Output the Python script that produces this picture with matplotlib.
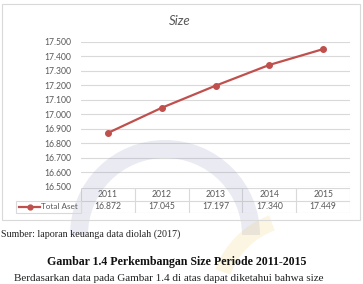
import numpy as np
import matplotlib.pyplot as plt
from matplotlib.patches import Rectangle, Wedge
from matplotlib.lines import Line2D

# === data ===
years = ['2011', '2012', '2013', '2014', '2015']
total_aset = [16.872, 17.045, 17.197, 17.340, 17.449]
y_ticks = [16.5, 16.6, 16.7, 16.8, 16.9, 17.0, 17.1, 17.2, 17.3, 17.4, 17.5]
series_name = 'Total Aset'
chart_title = 'Size'
source_text = 'Sumber: laporan keuanga data diolah (2017)'
caption_text = 'Gambar 1.4 Perkembangan Size Periode 2011-2015'
body_text = 'Berdasarkan data pada Gambar 1.4 di atas dapat diketahui bahwa size'

W, H = 363, 284
RED = '#C0504D'
GRAY_TXT = '#595959'
GRID = '#D9D9D9'
SANS = 'Lato'
SERIF = 'Liberation Serif'


def fx(px):
    return px / W


def fy(py):
    return 1 - py / H


def fmt(v):
    return f'{v:.3f}'


fig = plt.figure(figsize=(W / 100, H / 100), dpi=100)
fig.patch.set_facecolor('white')

# chart frame
fig.add_artist(Rectangle((fx(2), fy(220)), fx(358), (220 - 4) / H,
                         transform=fig.transFigure, fill=False,
                         edgecolor='#D9D9D9', linewidth=0.8))

fig.text(fx(180), fy(21), chart_title, ha='center', va='center',
         fontsize=9.5, style='italic', color=GRAY_TXT, family=SANS)

# plot area
x0, x1 = 81, 350
ytop, ybot = 41.7, 187
ax = fig.add_axes([fx(x0), fy(ybot), fx(x1 - x0), (ybot - ytop) / H])
x = np.arange(len(years))
ax.plot(x, total_aset, color=RED, linewidth=1.6, marker='o', markersize=4,
        zorder=3)
ax.set_xlim(-0.5, len(years) - 0.5)
ax.set_ylim(y_ticks[0], y_ticks[-1])
ax.set_yticks(y_ticks)
ax.set_yticklabels([fmt(v) for v in y_ticks])
ax.set_xticks([])
ax.tick_params(axis='y', length=0, pad=7, labelsize=6.2, labelcolor=GRAY_TXT)
for lab in ax.get_yticklabels():
    lab.set_family(SANS)
ax.grid(axis='y', color=GRID, linewidth=0.8)
ax.set_axisbelow(True)
for s in ax.spines.values():
    s.set_visible(False)

# data table under the plot
tab = fig.add_axes([fx(x0), fy(213), fx(x1 - x0), (213 - 188) / H])
tab.set_xlim(-0.5, len(years) - 0.5)
tab.set_ylim(0, 2)
tab.axis('off')
lw = 0.8
for r in (0, 1, 2):
    tab.add_line(Line2D([-0.5, len(years) - 0.5], [r, r], color=GRID, lw=lw))
for c in range(len(years) + 1):
    tab.add_line(Line2D([c - 0.5, c - 0.5], [0, 2], color=GRID, lw=lw))
for i, yr in enumerate(years):
    tab.text(i, 1.5, yr, ha='center', va='center', fontsize=6.2,
             color=GRAY_TXT, family=SANS)
    tab.text(i, 0.5, fmt(total_aset[i]), ha='center', va='center',
             fontsize=6.2, color=GRAY_TXT, family=SANS)

# legend cell
fig.add_artist(Rectangle((fx(16), fy(213)), fx(x0 - 16), 12.5 / H,
                         transform=fig.transFigure, fill=False,
                         edgecolor=GRID, linewidth=lw))
ly = fy(206.8)
fig.add_artist(Line2D([fx(19), fx(40)], [ly, ly], color=RED, lw=1.6,
                      transform=fig.transFigure))
fig.add_artist(Line2D([fx(29.5)], [ly], color=RED, marker='o', markersize=3.5,
                      transform=fig.transFigure))
fig.text(fx(41), ly, series_name, ha='left', va='center', fontsize=5.9,
         color=GRAY_TXT, family=SANS)

# document text around the chart
fig.text(fx(1), fy(234), source_text, ha='left', va='center',
         fontsize=7.2, color='#222222', family=SERIF)
fig.text(fx(177), fy(262), caption_text, ha='center', va='center',
         fontsize=8.6, weight='bold', color='#111111', family=SERIF)
fig.text(fx(14), fy(278.5), body_text, ha='left', va='center',
         fontsize=8.0, color='#222222', family=SERIF)

# faint watermark ring of the scanned page
wm = fig.add_axes([0, 0, 1, 1])
wm.set_xlim(0, W)
wm.set_ylim(H, 0)
wm.axis('off')
wm.patch.set_alpha(0)
wm.add_patch(Wedge((165, 235), 95, 180, 360, width=18,
                   facecolor='#8C93B8', alpha=0.18, edgecolor='none'))
wm.add_patch(Wedge((300, 300), 90, 200, 250, width=16,
                   facecolor='#E8C040', alpha=0.15, edgecolor='none'))

fig.savefig('out.png', dpi=100)
